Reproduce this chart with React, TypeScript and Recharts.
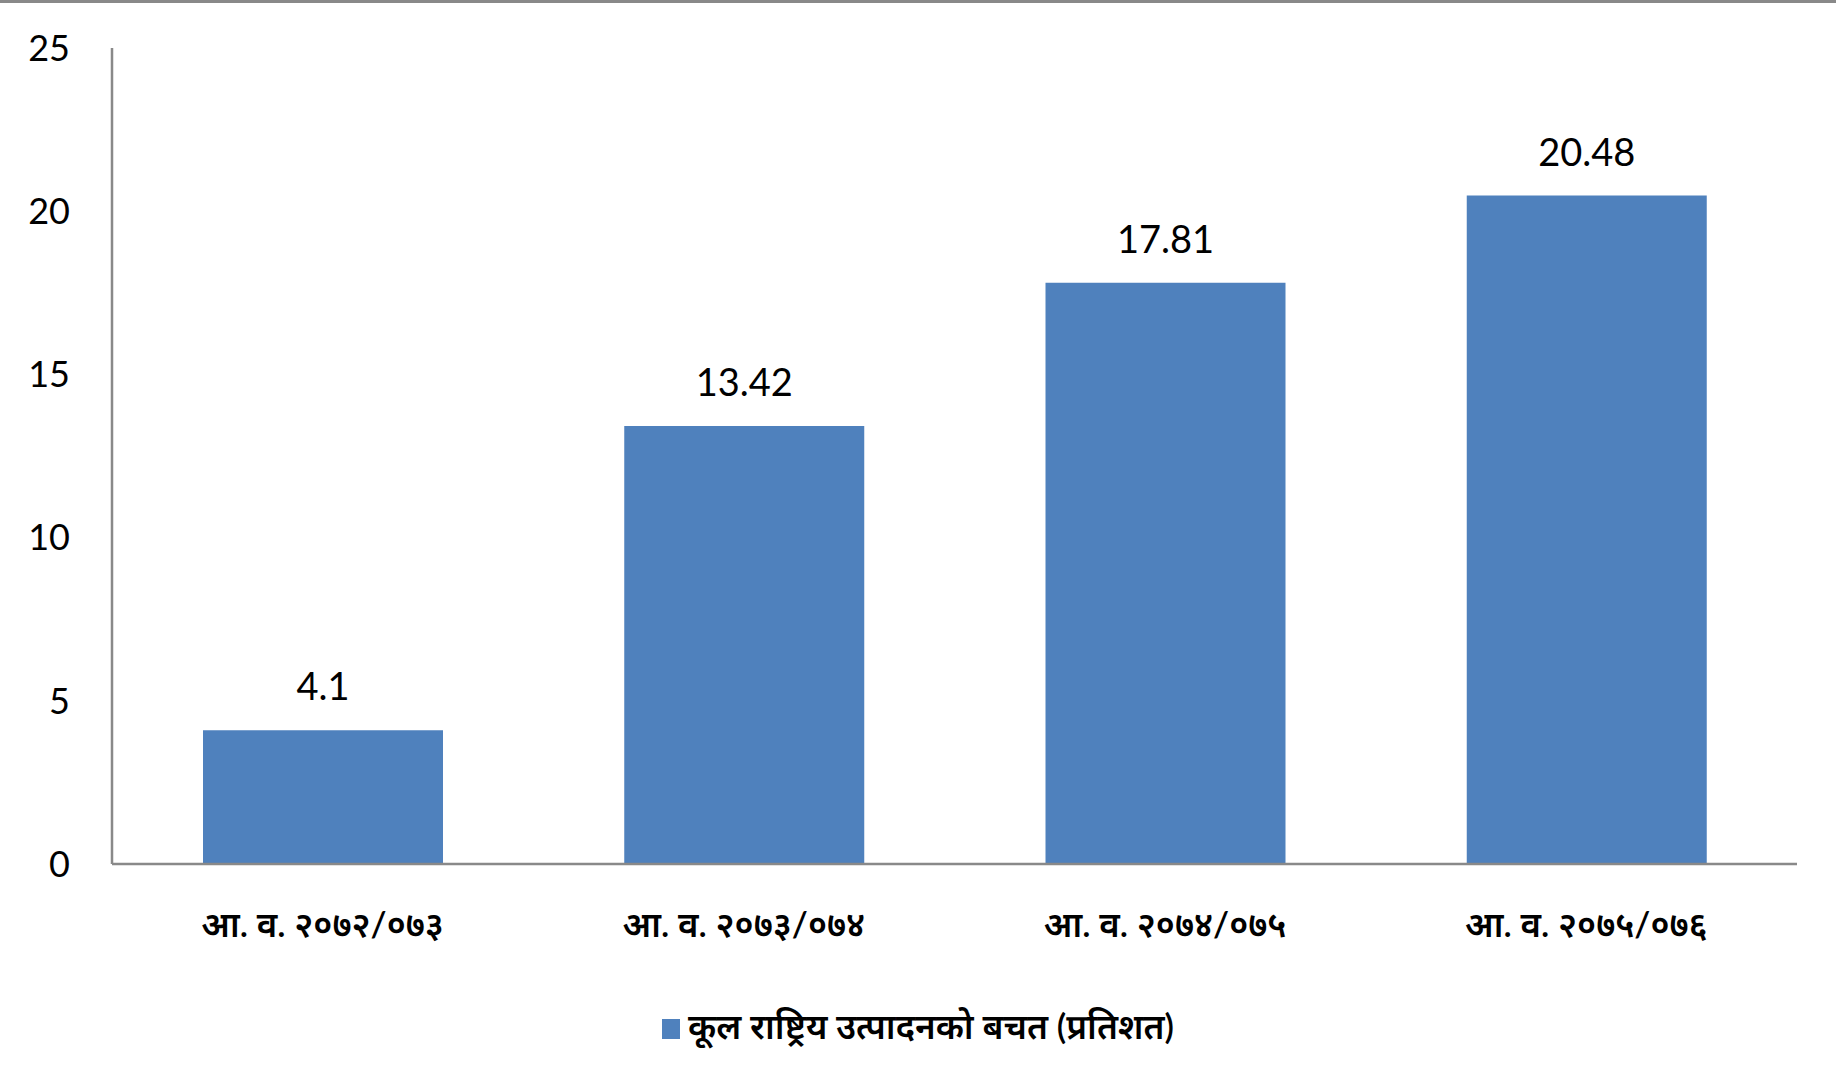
import React from "react";
import { Bar, BarChart, LabelList, Legend, XAxis, YAxis } from "recharts";

const categories = [
  "आ. व. २०७२/०७३",
  "आ. व. २०७३/०७४",
  "आ. व. २०७४/०७५",
  "आ. व. २०७५/०७६",
];
const savings = [4.1, 13.42, 17.81, 20.48];
const yTicks = [0, 5, 10, 15, 20, 25];
const seriesName = "कूल राष्ट्रिय उत्पादनको बचत (प्रतिशत)";

const BLUE = "#4f81bd";
const AXIS = "#898989";
const FONT = "Lato, 'Noto Sans Devanagari', 'Noto Sans', sans-serif";

const data = categories.map((c, i) => ({ name: c, value: savings[i] }));

function CategoryTick({ x, y, payload }: any) {
  return (
    <text
      x={x}
      y={y + 71}
      textAnchor="middle"
      fill="#000"
      fontSize={35}
      fontWeight={600}
      fontFamily={FONT}
    >
      {payload.value}
    </text>
  );
}

function LegendBox() {
  return (
    <div
      style={{
        display: "flex",
        alignItems: "center",
        justifyContent: "center",
        fontFamily: FONT,
        fontSize: 35,
        fontWeight: 600,
        color: "#000",
      }}
    >
      <span
        style={{
          display: "inline-block",
          width: 18,
          height: 20,
          background: BLUE,
          marginRight: 8,
        }}
      />
      {seriesName}
    </div>
  );
}

export default function App() {
  return (
    <div
      style={{
        position: "absolute",
        top: 0,
        left: 0,
        width: 1836,
        height: 1077,
        background: "#fff",
        borderTop: `3px solid ${AXIS}`,
        boxSizing: "border-box",
      }}
    >
      <div style={{ position: "absolute", top: -3, left: 0 }}>
        <BarChart
          width={1836}
          height={1077}
          data={data}
          margin={{ top: 48, right: 39, left: 0, bottom: 0 }}
        >
          <XAxis
            dataKey="name"
            height={213}
            axisLine={{ stroke: AXIS, strokeWidth: 2.5 }}
            tickLine={false}
            tickSize={0}
            tick={<CategoryTick />}
            interval={0}
          />
          <YAxis
            width={112}
            domain={[0, 25]}
            ticks={yTicks}
            axisLine={{ stroke: AXIS, strokeWidth: 2.5 }}
            tickLine={false}
            tickSize={0}
            tickMargin={42}
            tick={{ fill: "#000", fontSize: 36, fontFamily: FONT }}
          />
          <Legend
            layout="vertical"
            align="center"
            verticalAlign="middle"
            content={<LegendBox />}
            wrapperStyle={{ top: 1004, left: 0, width: 1836 }}
          />
          <Bar
            dataKey="value"
            name={seriesName}
            fill={BLUE}
            barSize={240}
            isAnimationActive={false}
          >
            <LabelList
              dataKey="value"
              position="top"
              offset={30}
              fill="#000"
              fontSize={38}
              fontFamily={FONT}
            />
          </Bar>
        </BarChart>
      </div>
    </div>
  );
}
